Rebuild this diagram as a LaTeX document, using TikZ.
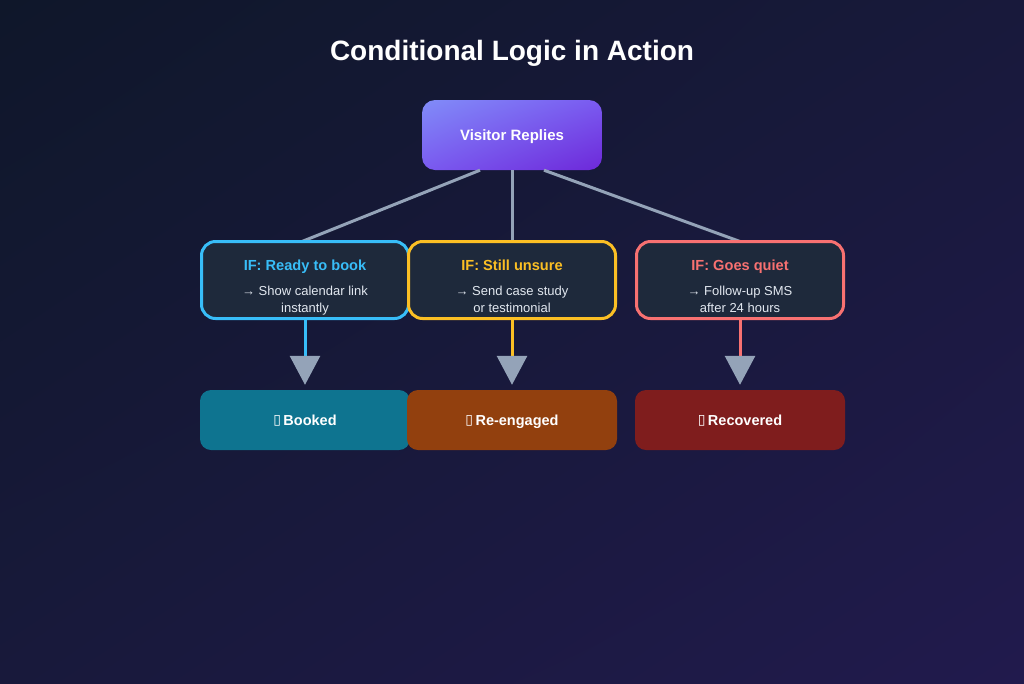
\documentclass[tikz,border=0pt]{standalone}
\usepackage{fontspec}
\setmainfont{Liberation Sans}
\newfontfamily\symfont{DejaVu Sans}
\usetikzlibrary{arrows.meta,calc,shadings}
\definecolor{bgA}{HTML}{0F172A}
\definecolor{bgB}{HTML}{211A4D}
\definecolor{bgM}{HTML}{18193B}
\definecolor{vrA}{HTML}{818CF8}
\definecolor{vrB}{HTML}{6D28D9}
\definecolor{vrM}{HTML}{7A5AF0}
\definecolor{cardbg}{HTML}{1E293B}
\definecolor{sky}{HTML}{38BDF8}
\definecolor{amber}{HTML}{FBBF24}
\definecolor{rose}{HTML}{F87171}
\definecolor{edge}{HTML}{94A3B8}
\definecolor{bodytxt}{HTML}{E2E8F0}
\definecolor{resA}{HTML}{0E7490}
\definecolor{resB}{HTML}{92400E}
\definecolor{resC}{HTML}{7F1D1D}
\newcommand{\tofu}{{\symfont\fontsize{14}{16}\selectfont\raisebox{1pt}{▯}}\,}
\begin{document}
\begin{tikzpicture}[x=1pt,y=-1pt,
  cond/.style={draw=#1, line width=3pt, fill=cardbg, rounded corners=14pt,
    minimum width=207pt, minimum height=77pt, inner sep=0pt},
  result/.style={fill=#1, rounded corners=11pt, minimum width=210pt,
    minimum height=60pt, inner sep=0pt, text=white, text height=10.5pt, text depth=0pt,
    font=\fontsize{14.5}{16}\selectfont\bfseries},
  ctitle/.style={anchor=base, inner sep=0pt, font=\fontsize{14.6}{16}\selectfont\bfseries, text=#1},
  cbody/.style={anchor=base, inner sep=0pt, font=\fontsize{13}{17}\selectfont, text=bodytxt, align=center},
  link/.style={draw=edge, line width=3pt},
  down/.style={draw=#1, line width=3pt,
    -{Triangle[width=30pt,length=29pt,color=edge]}, shorten >=5pt}
]
\useasboundingbox (0,0) rectangle (1024,683);
\shade[upper left=bgA, lower right=bgB, upper right=bgM, lower left=bgM]
  (0,0) rectangle (1024,683);

\node[anchor=base, inner sep=0pt, text=white, font=\fontsize{28}{32}\selectfont\bfseries] (title) at (512,60) {Conditional Logic in Action};

\node[rounded corners=13pt, minimum width=180pt, minimum height=70pt,
  upper left=vrA, lower right=vrB, upper right=vrM, lower left=vrM,
  text height=11pt, text depth=0pt,
  text=white, font=\fontsize{15}{17}\selectfont\bfseries] (vr) at (512,135) {Visitor Replies};

\draw[link] ($(vr.south)+(-32,0)$) -- (302,241.5) coordinate (e1);
\draw[link] (vr.south) -- (512,241.5) coordinate (e2);
\draw[link] ($(vr.south)+(32,0)$) -- (740,241.5) coordinate (e3);

\node[cond=sky] (c1) at (305,280) {};
\node[cond=amber] (c2) at (512,280) {};
\node[cond=rose] (c3) at (740,280) {};

\node[ctitle=sky] (t1) at (305,270) {IF: Ready to book};
\node[cbody] (b1) at (305,312) {→ Show calendar link\\instantly};
\node[ctitle=amber] (t2) at (512,270) {IF: Still unsure};
\node[cbody] (b2) at (512,312) {→ Send case study\\or testimonial};
\node[ctitle=rose] (t3) at (740,270) {IF: Goes quiet};
\node[cbody] (b3) at (740,312) {→ Follow-up SMS\\after 24 hours};

\node[result=resA] (r1) at (305,420) {\tofu Booked};
\node[result=resB] (r2) at (512,420) {\tofu Re-engaged};
\node[result=resC] (r3) at (740,420) {\tofu Recovered};

\draw[down=sky] (c1.south) -- (r1.north);
\draw[down=amber] (c2.south) -- (r2.north);
\draw[down=rose] (c3.south) -- (r3.north);
\end{tikzpicture}
\end{document}
